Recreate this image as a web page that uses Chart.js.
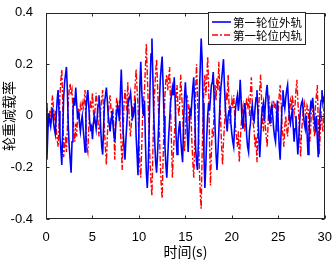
<!DOCTYPE html>
<html>
<head>
<meta charset="utf-8">
<script src="https://cdn.jsdelivr.net/npm/chart.js@4/dist/chart.umd.min.js"></script>
<style>
  html, body { margin: 0; padding: 0; background: #fff; }
  #wrap { width: 335px; height: 260px; }
</style>
</head>
<body>
<div id="wrap"><canvas id="wheelChart"></canvas></div>
<script>
// samples every 0.1 s from 0 to 30 s
const sampleStep = 0.1;
const xTicks = [0, 5, 10, 15, 20, 25, 30];
const yTicks = [-0.4, -0.2, 0, 0.2, 0.4];
const seriesNames = ['第一轮位外轨', '第一轮位内轨'];

const outerRail = [
  0.05, -0.17, -0.06, 0.01, -0.02, -0.04, 0.00, 0.03, -0.02, -0.05,
  -0.07, 0.00, 0.06, 0.10, 0.02, -0.08, -0.13, -0.19, -0.06, 0.07,
  0.13, 0.16, 0.19, 0.10, -0.04, -0.12, -0.17, -0.22, -0.10, 0.02,
  0.07, 0.04, 0.11, 0.05, -0.01, 0.02, -0.03, -0.06, -0.02, 0.00,
  -0.05, -0.09, -0.14, 0.02, 0.07, 0.10, 0.04, -0.02, -0.05, -0.04,
  -0.09, -0.03, 0.00, -0.02, -0.05, -0.01, 0.04, 0.08, 0.03, -0.06,
  -0.12, -0.15, -0.04, 0.05, 0.08, 0.11, 0.06, 0.00, -0.03, -0.06,
  -0.01, 0.02, -0.03, -0.07, -0.10, -0.04, 0.01, 0.04, 0.02, -0.02,
  0.08, 0.18, 0.07, -0.06, -0.12, -0.17, -0.09, -0.03, 0.04, 0.06,
  0.07, 0.09, 0.04, -0.01, 0.00, 0.03, 0.05, -0.08, -0.15, -0.23,
  -0.05, 0.12, 0.21, 0.10, 0.03, 0.00, 0.06, -0.10, -0.22, -0.28,
  -0.20, -0.05, 0.12, 0.24, 0.30, 0.15, 0.00, -0.10, -0.18, -0.22,
  -0.15, -0.06, 0.05, 0.14, 0.19, 0.23, 0.12, 0.00, -0.12, -0.19,
  -0.24, -0.16, -0.08, -0.02, 0.05, 0.08, 0.11, 0.08, 0.15, 0.06,
  -0.08, -0.15, -0.10, -0.05, -0.02, -0.09, -0.14, -0.18, -0.04, 0.07,
  0.13, 0.06, -0.06, -0.14, -0.05, 0.02, 0.00, 0.06, 0.11, 0.15,
  0.03, -0.12, -0.18, -0.21, -0.10, 0.08, 0.19, 0.30, 0.22, 0.05,
  -0.16, -0.28, -0.19, -0.08, 0.00, 0.05, 0.02, 0.07, 0.12, 0.13,
  0.17, 0.06, -0.05, -0.15, -0.21, -0.14, -0.06, 0.03, 0.10, 0.14,
  0.18, 0.22, 0.12, 0.03, -0.02, -0.06, 0.00, 0.02, 0.04, -0.03,
  -0.07, -0.10, -0.12, -0.04, 0.03, 0.06, 0.08, 0.02, 0.06, 0.14,
  0.06, -0.02, -0.05, 0.01, 0.05, 0.00, -0.08, -0.12, -0.14, -0.06,
  -0.03, 0.02, 0.04, -0.01, -0.02, 0.03, 0.07, 0.10, 0.02, -0.08,
  -0.16, -0.09, 0.00, 0.03, 0.05, -0.02, 0.04, 0.09, 0.12, 0.06,
  -0.01, -0.03, 0.02, 0.04, 0.00, -0.05, -0.08, -0.10, -0.02, 0.06,
  -0.04, -0.12, -0.17, -0.06, 0.04, 0.10, 0.06, 0.03, 0.07, 0.10,
  0.12, 0.05, -0.01, -0.03, 0.00, 0.02, -0.04, -0.10, -0.05, 0.00,
  -0.08, -0.15, -0.09, -0.02, 0.03, 0.05, 0.06, 0.01, -0.03, -0.05,
  0.00, -0.07, -0.15, -0.08, 0.01, 0.05, 0.04, 0.07, 0.02, -0.03,
  -0.05, 0.00, -0.09, -0.16, -0.07, 0.02, 0.06, 0.10, 0.05, 0.07,
  0.08
];

const innerRail = [
  -0.12, 0.03, 0.00, -0.04, 0.02, -0.03, 0.04, 0.08, 0.03, -0.02,
  0.02, -0.05, -0.09, -0.12, -0.04, 0.08, 0.14, 0.18, 0.05, -0.16,
  -0.12, -0.08, -0.14, -0.05, 0.06, 0.10, 0.125, 0.08, 0.10, 0.02,
  -0.06, -0.10, -0.03, -0.08, 0.00, 0.03, 0.00, 0.04, 0.02, 0.05,
  0.03, 0.06, 0.10, -0.06, -0.12, -0.14, -0.05, 0.02, 0.06, 0.03,
  0.09, 0.02, -0.03, 0.04, 0.09, 0.05, -0.02, -0.08, -0.04, 0.03,
  0.07, 0.10, 0.02, -0.06, -0.13, -0.19, -0.08, 0.00, 0.05, 0.08,
  0.02, -0.03, 0.03, -0.05, -0.17, -0.02, 0.07, 0.04, 0.00, 0.06,
  -0.05, -0.12, -0.21, -0.06, 0.05, 0.10, 0.06, 0.02, 0.13, 0.04,
  -0.04, -0.08, -0.02, 0.04, 0.00, 0.05, 0.12, 0.18, 0.10, 0.04,
  -0.10, -0.20, -0.24, -0.12, 0.00, 0.06, 0.10, 0.19, 0.28, 0.16,
  0.05, -0.08, -0.18, -0.26, -0.31, -0.14, 0.02, 0.10, 0.17, 0.22,
  0.12, 0.03, -0.06, -0.18, -0.27, -0.32, -0.17, -0.04, 0.08, 0.14,
  0.16, 0.10, 0.14, 0.19, 0.05, -0.10, -0.24, -0.15, -0.08, -0.03,
  0.08, 0.12, 0.04, 0.00, 0.06, 0.16, 0.08, 0.02, -0.08, -0.14,
  -0.06, 0.02, 0.08, 0.04, -0.02, 0.03, 0.00, -0.10, -0.18, -0.24,
  -0.12, 0.10, 0.20, 0.08, -0.05, -0.20, -0.30, -0.36, -0.15, 0.00,
  0.10, 0.16, 0.08, 0.14, 0.23, 0.12, -0.10, -0.27, -0.14, -0.05,
  -0.08, 0.04, 0.12, 0.06, 0.15, 0.10, 0.21, 0.08, -0.02, -0.12,
  -0.19, -0.10, -0.04, 0.02, 0.08, 0.06, 0.16, 0.04, -0.03, 0.02,
  0.06, 0.03, 0.08, 0.01, -0.05, -0.08, -0.12, -0.06, -0.18, -0.10,
  -0.04, 0.02, 0.04, -0.03, -0.06, 0.03, 0.07, 0.04, 0.06, 0.00,
  0.09, 0.15, 0.05, -0.03, -0.06, -0.12, -0.08, -0.18, -0.05, 0.04,
  0.10, 0.16, 0.06, -0.02, -0.06, 0.02, -0.04, -0.08, -0.12, -0.03,
  0.08, 0.02, -0.04, 0.00, 0.04, 0.06, 0.03, 0.05, 0.00, -0.06,
  0.02, 0.08, 0.12, 0.05, -0.04, -0.08, -0.12, -0.04, 0.00, -0.05,
  -0.08, -0.02, 0.04, 0.06, 0.02, 0.08, 0.05, 0.01, 0.04, 0.10,
  0.14, 0.06, 0.00, -0.08, -0.16, -0.06, -0.02, 0.03, 0.05, 0.02,
  -0.03, 0.04, 0.03, -0.05, -0.10, -0.04, 0.06, 0.02, -0.04, -0.08,
  0.04, 0.08, 0.12, -0.03, -0.15, -0.08, 0.02, -0.03, -0.06, 0.03,
  0.05
];

const toPoints = (arr) => arr.map((v, i) => ({ x: +(i * sampleStep).toFixed(1), y: v }));

const blue = '#0000ff';
const red = '#ff0000';
const redDash = [6, 2, 2, 2];

// MATLAB style box, inward ticks and legend
const matlabFrame = {
  id: 'matlabFrame',
  afterDraw(chart) {
    const { ctx, chartArea: a, scales } = chart;
    const L = Math.round(a.left) + 0.5, R = Math.round(a.right) - 0.5;
    const T = Math.round(a.top) + 0.5, B = Math.round(a.bottom) - 0.5;
    ctx.save();
    ctx.strokeStyle = '#262626';
    ctx.lineWidth = 1;
    ctx.strokeRect(L, T, R - L, B - T);
    ctx.beginPath();
    xTicks.forEach(v => {
      const px = Math.round(scales.x.getPixelForValue(v)) + 0.5;
      ctx.moveTo(px, B); ctx.lineTo(px, B - 3);
      ctx.moveTo(px, T); ctx.lineTo(px, T + 3);
    });
    yTicks.forEach(v => {
      const py = Math.round(scales.y.getPixelForValue(v)) + 0.5;
      ctx.moveTo(L, py); ctx.lineTo(L + 3, py);
      ctx.moveTo(R, py); ctx.lineTo(R - 3, py);
    });
    ctx.stroke();

    // legend
    const lx = 208.5, ly = 12.5, lw = 97, lh = 32;
    ctx.fillStyle = '#fff';
    ctx.fillRect(lx, ly, lw, lh);
    ctx.strokeStyle = '#262626';
    ctx.strokeRect(lx, ly, lw, lh);
    const rows = [
      { y: 22, color: blue, width: 1.6, dash: [] },
      { y: 35, color: red, width: 1.4, dash: redDash }
    ];
    ctx.font = '11.5px "Noto Sans CJK SC"';
    ctx.textBaseline = 'middle';
    ctx.textAlign = 'left';
    rows.forEach((r, i) => {
      ctx.beginPath();
      ctx.setLineDash(r.dash);
      ctx.strokeStyle = r.color;
      ctx.lineWidth = r.width;
      ctx.moveTo(212, r.y); ctx.lineTo(231, r.y);
      ctx.stroke();
      ctx.setLineDash([]);
      ctx.fillStyle = '#000';
      ctx.fillText(seriesNames[i], 233, r.y + 0.5);
    });
    ctx.restore();
  }
};

new Chart(document.getElementById('wheelChart'), {
  type: 'line',
  data: {
    datasets: [
      {
        label: seriesNames[0],
        data: toPoints(outerRail),
        borderColor: blue,
        borderWidth: 1.6,
        pointRadius: 0,
        tension: 0
      },
      {
        label: seriesNames[1],
        data: toPoints(innerRail),
        borderColor: red,
        borderWidth: 1.4,
        borderDash: redDash,
        pointRadius: 0,
        tension: 0
      }
    ]
  },
  options: {
    responsive: true,
    maintainAspectRatio: false,
    animation: false,
    layout: { padding: { top: 8, right: 9, left: 0, bottom: 0 } },
    plugins: { legend: { display: false }, tooltip: { enabled: false } },
    scales: {
      x: {
        type: 'linear',
        min: 0,
        max: 30,
        afterBuildTicks: (s) => { s.ticks = xTicks.map(v => ({ value: v })); },
        afterFit: (s) => { s.height = 41; },
        grid: { display: false },
        border: { display: false },
        ticks: {
          padding: 3,
          maxRotation: 0,
          autoSkip: false,
          color: '#000',
          font: { family: 'Liberation Sans', size: 13 }
        },
        title: {
          display: true,
          text: '时间(s)',
          color: '#000',
          padding: 0,
          font: { family: 'Noto Sans CJK SC', size: 14 }
        }
      },
      y: {
        min: -0.4,
        max: 0.4,
        afterBuildTicks: (s) => { s.ticks = yTicks.map(v => ({ value: v })); },
        afterFit: (s) => { s.width = 46; },
        grid: { display: false },
        border: { display: false },
        ticks: {
          padding: 5,
          autoSkip: false,
          color: '#000',
          font: { family: 'Liberation Sans', size: 13 },
          callback: (v) => String(v)
        },
        title: {
          display: true,
          text: '轮重减载率',
          color: '#000',
          padding: 0,
          font: { family: 'Noto Sans CJK SC', size: 14 }
        }
      }
    }
  },
  plugins: [matlabFrame]
});
</script>
</body>
</html>
